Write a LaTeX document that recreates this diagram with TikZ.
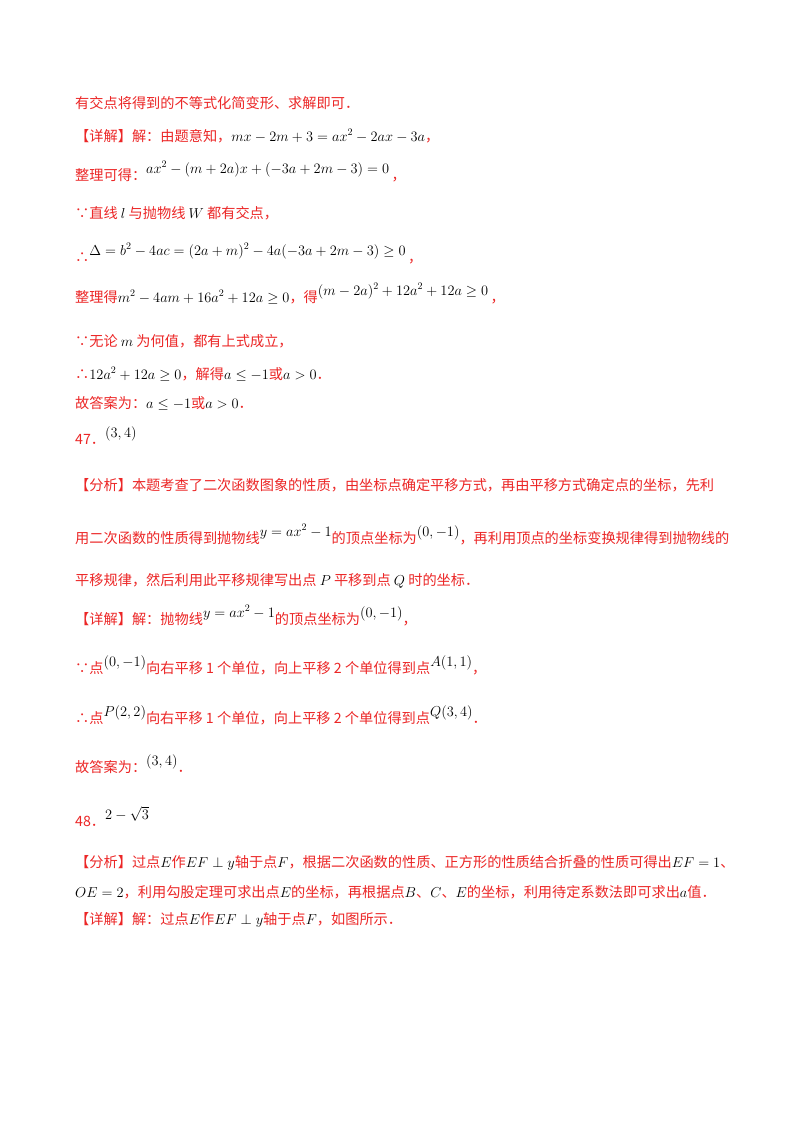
\documentclass[tikz,border=0pt]{standalone}
\usepackage{fontspec}
\setmainfont{Noto Sans CJK SC}
\definecolor{rd}{RGB}{236,38,38}
\newcommand{\mm}[1]{{\color{black}$#1$}}
\newcommand{\up}[1]{\raisebox{7pt}{\mm{#1}}}
\begin{document}
\begin{tikzpicture}[x=1pt,y=-1pt,
  ln/.style={anchor=base west,inner sep=0pt,text=rd,font=\fontsize{14.2}{16}\selectfont}]
\useasboundingbox (0,0) rectangle (800,1132);
\fill[white] (0,0) rectangle (800,1132);
\node[ln] (l1) at (75,108) {有交点将得到的不等式化简变形、求解即可．};
\node[ln] (l2) at (75,141) {【详解】解：由题意知，\mm{mx-2m+3=ax^2-2ax-3a}，};
\node[ln] (l3) at (75,180) {整理可得：\up{ax^2-(m+2a)x+(-3a+2m-3)=0}\,，};
\node[ln] (l4) at (75,218) {∵直线 \mm{l} 与抛物线 \mm{W} 都有交点，};
\node[ln] (l5) at (75,262) {∴\up{\Delta=b^2-4ac=(2a+m)^2-4a(-3a+2m-3)\geq0}\,，};
\node[ln] (l6) at (75,302) {整理得\mm{m^2-4am+16a^2+12a\geq0}，得\up{(m-2a)^2+12a^2+12a\geq0}\,，};
\node[ln] (l7) at (75,346) {∵无论 \mm{m} 为何值，都有上式成立，};
\node[ln] (l8) at (75,379) {∴\mm{12a^2+12a\geq0}，解得\mm{a\leq-1}或\mm{a>0}．};
\node[ln] (l9) at (75,408) {故答案为：\mm{a\leq-1}或\mm{a>0}．};
\node[ln] (l10) at (75,444) {47．\up{(3,4)}};
\node[ln] (l11) at (75,490) {【分析】本题考查了二次函数图象的性质，由坐标点确定平移方式，再由平移方式确定点的坐标，先利};
\node[ln] (l12) at (75,543) {用二次函数的性质得到抛物线\up{y=ax^2-1}的顶点坐标为\up{(0,-1)}，再利用顶点的坐标变换规律得到抛物线的};
\node[ln] (l13) at (75,585) {平移规律，然后利用此平移规律写出点 \mm{P} 平移到点 \mm{Q} 时的坐标．};
\node[ln] (l14) at (75,624) {【详解】解：抛物线\up{y=ax^2-1}的顶点坐标为\up{(0,-1)}，};
\node[ln] (l15) at (75,673) {∵点\up{(0,-1)}向右平移 1 个单位，向上平移 2 个单位得到点\up{A(1,1)}，};
\node[ln] (l16) at (75,723) {∴点\up{P(2,2)}向右平移 1 个单位，向上平移 2 个单位得到点\up{Q(3,4)}．};
\node[ln] (l17) at (75,772) {故答案为：\up{(3,4)}．};
\node[ln] (l18) at (75,826) {48．\up{2-\sqrt{3}}};
\node[ln] (l19) at (75,867) {【分析】过点\mm{E}作\mm{EF\perp y}轴于点\mm{F}，根据二次函数的性质、正方形的性质结合折叠的性质可得出\mm{EF=1}、};
\node[ln] (l20) at (75,897) {\mm{OE=2}，利用勾股定理可求出点\mm{E}的坐标，再根据点\mm{B}、\mm{C}、\mm{E}的坐标，利用待定系数法即可求出\mm{a}值．};
\node[ln] (l21) at (75,924) {【详解】解：过点\mm{E}作\mm{EF\perp y}轴于点\mm{F}，如图所示．};
\end{tikzpicture}
\end{document}
